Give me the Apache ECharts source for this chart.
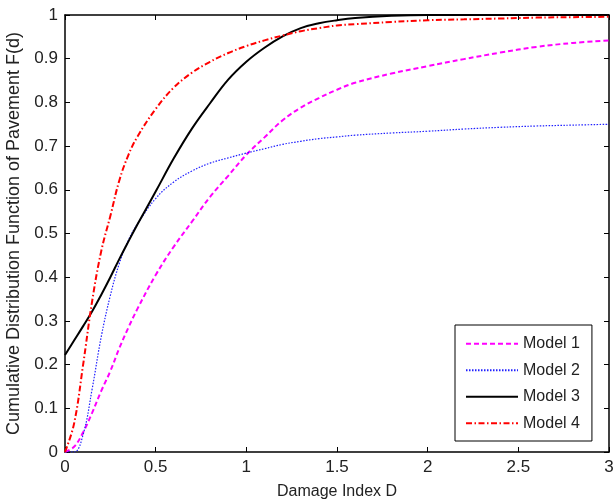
<!DOCTYPE html>
<html>
<head>
<meta charset="utf-8">
<script src="https://cdn.jsdelivr.net/npm/echarts@6/dist/echarts.min.js"></script>
<style>html,body{margin:0;padding:0;background:#fff;}#c{width:613px;height:502px;}</style>
</head>
<body>
<div id="c"></div>
<script>
var dValues = [0, 0.05, 0.1, 0.15, 0.2, 0.25, 0.3, 0.35, 0.4, 0.5, 0.6, 0.7, 0.8, 0.9, 1.0, 1.1, 1.2, 1.3, 1.4, 1.5, 1.6, 1.8, 2.0, 2.2, 2.4, 2.6, 2.8, 3.0];
var model1 = [0, 0.012, 0.045, 0.09, 0.14, 0.185, 0.238, 0.285, 0.328, 0.405, 0.47, 0.527, 0.584, 0.632, 0.68, 0.72, 0.759, 0.788, 0.81, 0.829, 0.845, 0.866, 0.883, 0.899, 0.914, 0.927, 0.936, 0.942];
var model2 = [0, 0.0, 0.04, 0.145, 0.264, 0.358, 0.432, 0.485, 0.522, 0.58, 0.618, 0.643, 0.661, 0.673, 0.684, 0.694, 0.704, 0.711, 0.717, 0.721, 0.725, 0.73, 0.734, 0.739, 0.743, 0.746, 0.748, 0.75];
var model3 = [0.222, 0.255, 0.288, 0.322, 0.36, 0.4, 0.442, 0.482, 0.521, 0.596, 0.672, 0.74, 0.798, 0.852, 0.893, 0.925, 0.951, 0.97, 0.981, 0.988, 0.993, 0.998, 1.0, 1.0, 1.0, 1.0, 1.0, 1.0];
var model4 = [0, 0.065, 0.2, 0.346, 0.46, 0.54, 0.622, 0.68, 0.722, 0.785, 0.834, 0.868, 0.893, 0.913, 0.929, 0.942, 0.953, 0.963, 0.97, 0.976, 0.979, 0.984, 0.988, 0.99, 0.992, 0.994, 0.995, 0.996];
var seriesNames = ['Model 1', 'Model 2', 'Model 3', 'Model 4'];
var xTitle = 'Damage Index D';
var yTitle = 'Cumulative Distribution Function of Pavement F(d)';

function pairs(ys){ return dValues.map(function(x,i){ return [x, ys[i]]; }); }

var font = 'Liberation Sans, Arial, sans-serif';
var chart = echarts.init(document.getElementById('c'), null, {renderer:'canvas'});
var axisLine = {show:true, onZero:false, lineStyle:{color:'#000', width:1.5}};
var tick = {show:true, inside:true, length:5, lineStyle:{color:'#000', width:1}};
chart.setOption({
  animation:false,
  backgroundColor:'#fff',
  grid:{left:65, right:4, top:15, bottom:50, containLabel:false, outerBoundsMode:'none'},
  xAxis:[
    {type:'value', min:0, max:3, interval:0.5, position:'bottom',
     name:xTitle, nameLocation:'middle', nameGap:32,
     nameTextStyle:{fontFamily:font, fontSize:16, color:'#222'},
     axisLine:axisLine, axisTick:tick, splitLine:{show:false},
     axisLabel:{fontFamily:font, fontSize:17, color:'#222', margin:7}},
    {type:'value', min:0, max:3, interval:0.5, position:'top',
     axisLine:axisLine, axisTick:tick, splitLine:{show:false}, axisLabel:{show:false}}
  ],
  yAxis:[
    {type:'value', min:0, max:1, interval:0.1, position:'left',
     name:yTitle, nameLocation:'middle', nameGap:35,
     nameTextStyle:{fontFamily:font, fontSize:18, color:'#222'},
     axisLine:axisLine, axisTick:tick, splitLine:{show:false},
     axisLabel:{fontFamily:font, fontSize:17, color:'#222', margin:7,
       formatter:function(v){ return v===0?'0':(v===1?'1':v.toFixed(1)); }}},
    {type:'value', min:0, max:1, interval:0.1, position:'right',
     axisLine:axisLine, axisTick:tick, splitLine:{show:false}, axisLabel:{show:false}}
  ],
  legend:{
    orient:'vertical', left:455, top:325,
    padding:[10.7,12,9.8,10], itemGap:10.5, itemWidth:52, itemHeight:12,
    borderColor:'#000', borderWidth:1, backgroundColor:'#fff',
    itemStyle:{opacity:0},
    textStyle:{fontFamily:font, fontSize:16, color:'#222'},
    data:seriesNames
  },
  series:[
    {name:seriesNames[0], type:'line', data:pairs(model1), symbol:'none', smooth:0.4,
     lineStyle:{color:'#ff00ff', width:2, type:[5,3]}, itemStyle:{color:'#ff00ff'}},
    {name:seriesNames[1], type:'line', data:pairs(model2), symbol:'none', smooth:0.4,
     lineStyle:{color:'#2020ff', width:1.2, type:[1.5,1.5]}, itemStyle:{color:'#2020ff'}},
    {name:seriesNames[2], type:'line', data:pairs(model3), symbol:'none', smooth:0.4,
     lineStyle:{color:'#000', width:2, type:'solid'}, itemStyle:{color:'#000'}},
    {name:seriesNames[3], type:'line', data:pairs(model4), symbol:'none', smooth:0.4,
     lineStyle:{color:'#ff0000', width:2, type:[6,2.5,1.5,2.5]}, itemStyle:{color:'#ff0000'}}
  ]
});
</script>
</body>
</html>
